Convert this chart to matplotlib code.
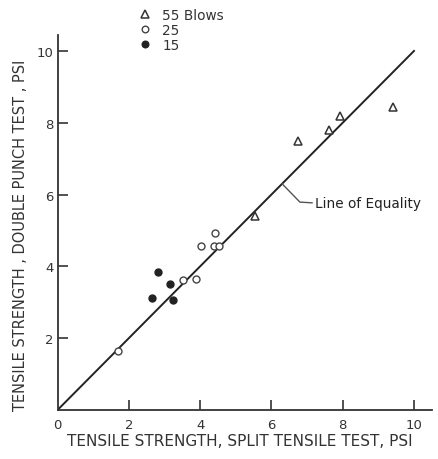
import numpy as np
import matplotlib
matplotlib.use('Agg')
import matplotlib.pyplot as plt

# Data (psi)
split_55 = [5.54, 6.74, 7.62, 7.92, 9.42]
punch_55 = [5.41, 7.50, 7.80, 8.20, 8.43]

split_25 = [1.71, 3.52, 3.88, 4.02, 4.38, 4.52, 4.42]
punch_25 = [1.64, 3.63, 3.66, 4.56, 4.56, 4.56, 4.94]

split_15 = [2.64, 2.83, 3.16, 3.23]
punch_15 = [3.12, 3.84, 3.51, 3.06]

equality = [0, 10]
ticks = [0, 2, 4, 6, 8, 10]

plt.rcParams['font.family'] = 'DejaVu Sans'

fig = plt.figure(figsize=(4.38, 4.6), dpi=100)
ax = fig.add_axes([0.1313, 0.1065, 0.8546, 0.8157])

# Line of equality
ax.plot(equality, equality, color='#222222', lw=1.4, zorder=1)

ax.plot(split_55, punch_55, ls='none', marker='^', ms=5.5, mfc='white',
        mec='#333333', mew=1.1, label='55 Blows', zorder=3)
ax.plot(split_25, punch_25, ls='none', marker='o', ms=5, mfc='white',
        mec='#444444', mew=1.0, label='25', zorder=3)
ax.plot(split_15, punch_15, ls='none', marker='o', ms=5, mfc='#222222',
        mec='#222222', mew=1.0, label='15', zorder=3)

# leader + label for the equality line
ax.plot([6.30, 6.80, 7.14], [6.30, 5.79, 5.77], color='#555555', lw=1.0)
ax.text(7.22, 5.76, 'Line of Equality', fontsize=9.8, va='center', ha='left',
        color='#222222')

ax.set_xlim(0, 10.5)
ax.set_ylim(0, 10.45)
ax.set_xticks(ticks)
ax.set_yticks(ticks[1:])
ax.set_xticklabels([str(t) for t in ticks])

for s in ['top', 'right']:
    ax.spines[s].set_visible(False)
for s in ['left', 'bottom']:
    ax.spines[s].set_linewidth(1.3)
    ax.spines[s].set_color('#333333')

ax.tick_params(direction='in', length=7, width=1.2, colors='#333333',
               labelsize=9.5, labelcolor='#333333')
ax.tick_params(axis='x', pad=6)
ax.tick_params(axis='y', pad=3)
ax.xaxis.get_major_ticks()[0].tick1line.set_visible(False)

ax.set_xlabel('TENSILE STRENGTH, SPLIT TENSILE TEST, PSI', fontsize=11,
              color='#333333', va='center')
ax.xaxis.set_label_coords(0.488, -0.08)
ax.set_ylabel('TENSILE STRENGTH , DOUBLE PUNCH TEST , PSI', fontsize=10.5,
              color='#333333', va='center')
ax.yaxis.set_label_coords(-0.10, 0.467)

leg = ax.legend(loc='upper left', bbox_to_anchor=(0.315, 0.981),
                bbox_transform=fig.transFigure, frameon=False, fontsize=9.8,
                handlelength=1.0, handletextpad=0.8, labelspacing=0.08,
                borderpad=0, borderaxespad=0, markerscale=0.95)
for t in leg.get_texts():
    t.set_color('#333333')

fig.savefig('out.png', dpi=100)
plt.close(fig)
